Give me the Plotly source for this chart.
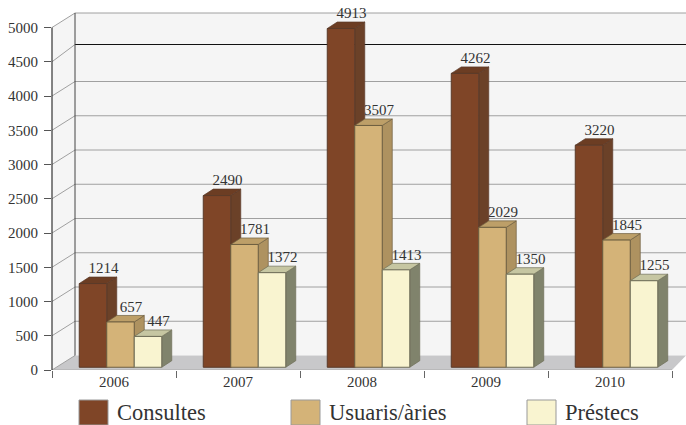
import plotly.graph_objects as go

years = ["2006", "2007", "2008", "2009", "2010"]
consultes = [1214, 2490, 4913, 4262, 3220]
usuaris = [657, 1781, 3507, 2029, 1845]
prestecs = [447, 1372, 1413, 1350, 1255]
y_ticks = [0, 500, 1000, 1500, 2000, 2500, 3000, 3500, 4000, 4500, 5000]
series = [
    ("Consultes", consultes, "#7f4527", "#6b4128", "#6c3d23", "#5a3a28"),
    ("Usuaris/àries", usuaris, "#d4b378", "#ae9260", "#bd9f68", "#6e5f40"),
    ("Préstecs", prestecs, "#f9f4d0", "#80836c", "#c6c6a2", "#6f6e58"),
]

# geometry (pixel scale of the axes)
W, H = 686, 425
L, R, T, B = 52, 686, 12, 370
XU = 124.0            # pixels per category
YU = 0.0685           # pixels per value unit
xpx = lambda p: (p - L) / XU - 0.5
dx = lambda p: p / XU
dy = lambda p: p / YU
wx, wy = dx(23), dy(14.5)      # wall depth
bx, by = dx(10), dy(6.5)       # bar depth
BW = dx(27.5)
GROUP_SHIFT = dx(6.5)
BASE = 40
K = 1.0065
DARK_VALUE = 4540
YMAX = (B - T) / YU
FONT = "Liberation Serif"
GRID = "#a0a0a0"
INK = "#333333"


def poly(pts):
    return "M " + " L ".join(f"{x:.4f},{y:.2f}" for x, y in pts) + " Z"


shapes = []
x0, x1 = -0.5, xpx(R)
x_end = xpx(672) - 0.0
# walls and floor
shapes.append(dict(type="path", path=poly([(x0, 0), (x0 + wx, wy), (x0 + wx, 5000 + wy), (x0, 5000)]),
                   fillcolor="#f5f5f5", line_width=0, layer="below"))
shapes.append(dict(type="rect", x0=x0 + wx, x1=x1, y0=wy, y1=5000 + wy,
                   fillcolor="#f5f5f5", line_width=0, layer="below"))
shapes.append(dict(type="path", path=poly([(x0, 0), (x0 + wx, wy), (x1, wy), (x_end, 0)]),
                   fillcolor="#c8c8ca", line_width=0, layer="below"))
# grid
for v in y_ticks:
    color, back = (GRID, v)
    if v == 4500:
        color, back = ("#111111", DARK_VALUE)
    shapes.append(dict(type="line", x0=x0, x1=x0 + wx, y0=v, y1=back + wy,
                       line=dict(color=GRID, width=1), layer="below"))
    if v > 0:
        shapes.append(dict(type="line", x0=x0 + wx, x1=x1, y0=back + wy, y1=back + wy,
                           line=dict(color=color, width=1), layer="below"))
shapes.append(dict(type="line", x0=x0 + wx, x1=x0 + wx, y0=wy, y1=5000 + wy,
                   line=dict(color="#444444", width=1), layer="below"))
shapes.append(dict(type="line", x0=x0, x1=x_end, y0=0, y1=0,
                   line=dict(color="#aaaaaa", width=1), layer="below"))
shapes.append(dict(type="line", xref="paper", x0=0, x1=0, y0=0, y1=5000,
                   line=dict(color="#333333", width=1.2)))

fig = go.Figure()
for si, (name, vals, front, side, top, edge) in enumerate(series):
    off = GROUP_SHIFT + (si - 1.5) * BW
    tops = []
    for ci, v in enumerate(vals):
        xl = ci + off
        xr = xl + BW
        t = BASE + v * K
        tops.append(t)
        shapes.append(dict(type="path", path=poly([(xr, BASE), (xr + bx, BASE + by), (xr + bx, t + by), (xr, t)]),
                           fillcolor=side, line=dict(color=edge, width=0.7), layer="below"))
        shapes.append(dict(type="path", path=poly([(xl, t), (xl + bx, t + by), (xr + bx, t + by), (xr, t)]),
                           fillcolor=top, line=dict(color=edge, width=0.7), layer="below"))
    fig.add_trace(go.Bar(
        x=list(range(len(years))), y=[v * K for v in vals], base=BASE, name=name,
        width=BW, offset=off,
        marker=dict(color=front, line=dict(color=edge, width=1)), showlegend=False,
    ))
    fig.add_trace(go.Scatter(
        x=[i + off + BW / 2 + dx(10.5) for i in range(len(years))],
        y=[t + dy(14) for t in tops],
        mode="text", text=[str(v) for v in vals], textposition="middle center",
        textfont=dict(family=FONT, size=15, color=INK),
        cliponaxis=False, showlegend=False, hoverinfo="skip",
    ))

# legend
plot_w, plot_h = R - L, B - T
px = lambda p: (p - L) / plot_w
py = lambda p: (B - p) / plot_h
annotations = []
for (name, _, front, *_rest), sx in zip(series, [79, 291, 527]):
    shapes.append(dict(type="rect", xref="paper", yref="paper", x0=px(sx), x1=px(sx + 29),
                       y0=py(425), y1=py(400), fillcolor=front, line=dict(color="#999999", width=1)))
    annotations.append(dict(xref="paper", yref="paper", x=px(sx + 36), y=py(412.5), text=name,
                            showarrow=False, xanchor="left", yanchor="middle",
                            font=dict(family=FONT, size=22.5, color=INK)))

fig.update_layout(
    width=W, height=H, autosize=False, barmode="overlay",
    margin=dict(l=L, r=W - R, t=T, b=H - B, pad=0),
    paper_bgcolor="white", plot_bgcolor="white",
    shapes=shapes, annotations=annotations,
    xaxis=dict(range=[x0, x1], tickmode="array", tickvals=list(range(len(years))), ticktext=years,
               ticks="", showgrid=False, zeroline=False, showline=False, ticklabelstandoff=1,
               tickfont=dict(family=FONT, size=15, color=INK),
               minor=dict(tickmode="array", tickvals=[i - 0.5 for i in range(len(years) + 1)],
                          ticks="outside", ticklen=7, tickcolor="#666666", tickwidth=1, showgrid=False)),
    yaxis=dict(range=[0, YMAX], tickmode="array", tickvals=y_ticks, ticks="outside", ticklen=7,
               tickcolor="#555555", tickwidth=1, showgrid=False, zeroline=False, showline=False,
               ticklabelstandoff=3,
               tickfont=dict(family=FONT, size=15, color=INK)),
)
fig.write_html("out.html", config=dict(displayModeBar=False),
               post_script="document.body.style.margin='0';document.body.style.overflow='hidden';")
